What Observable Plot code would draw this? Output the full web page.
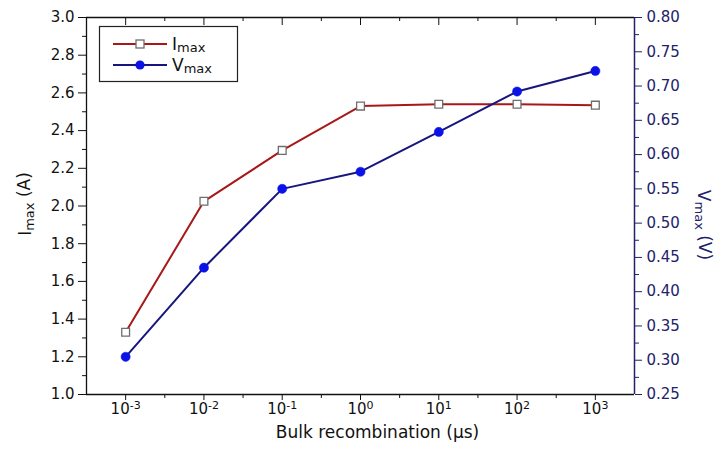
<!DOCTYPE html>
<html>
<head>
<meta charset="utf-8">
<script src="https://cdn.jsdelivr.net/npm/d3@7"></script>
<script src="https://cdn.jsdelivr.net/npm/@observablehq/plot@0.6"></script>
<style>
  html, body { margin: 0; padding: 0; background: #fff; }
  #chart svg { display: block; }
</style>
</head>
<body>
<div id="chart"></div>
<script>
// Bulk recombination lifetime (µs) and the resulting maximum-power current / voltage
const tau = [1e-3, 1e-2, 1e-1, 1e0, 1e1, 1e2, 1e3];
const iMax = [1.33, 2.025, 2.295, 2.53, 2.54, 2.54, 2.535];
const vMax = [0.305, 0.435, 0.55, 0.575, 0.633, 0.692, 0.722];

// Axis ticks
const xMinor = [-2.5, -1.5, -0.5, 0.5, 1.5, 2.5].map(e => Math.pow(10, e));
const iTicks = [1.0, 1.2, 1.4, 1.6, 1.8, 2.0, 2.2, 2.4, 2.6, 2.8, 3.0];
const iMinor = [1.1, 1.3, 1.5, 1.7, 1.9, 2.1, 2.3, 2.5, 2.7, 2.9];
const vTicks = [0.25, 0.30, 0.35, 0.40, 0.45, 0.50, 0.55, 0.60, 0.65, 0.70, 0.75, 0.80];
const vMinor = [0.275, 0.325, 0.375, 0.425, 0.475, 0.525, 0.575, 0.625, 0.675, 0.725, 0.775];

const xDomain = [Math.pow(10, -3.5), Math.pow(10, 3.5)];
const iDomain = [1.0, 3.0];
const vDomain = [0.25, 0.80];

// The voltage series shares the current axis through a linear mapping
const vToI = d3.scaleLinear().domain(vDomain).range(iDomain);

const red = "#a81818";
const navy = "#16167e";
const blue = "#0a12e8";
const axisNavy = "#22226a";

const iData = tau.map((t, k) => ({t, v: iMax[k]}));
const vData = tau.map((t, k) => ({t, v: vToI(vMax[k])}));

const expFmt = d => "10^" + Math.round(Math.log10(d));

const chart = Plot.plot({
  width: 723,
  height: 451,
  marginLeft: 86,
  marginRight: 89,
  marginTop: 17,
  marginBottom: 57,
  style: {fontFamily: "'DejaVu Sans', sans-serif", fontSize: "15px", color: "#111", background: "#fff"},
  x: {type: "log", domain: xDomain},
  y: {domain: iDomain},
  marks: [
    // bottom axis
    Plot.axisX(tau, {anchor: "bottom", tickSize: 6, tickPadding: 3, tickFormat: expFmt, label: null}),
    Plot.axisX(xMinor, {anchor: "bottom", tickSize: 4, tickFormat: () => "", label: null}),
    // top mirror ticks pointing inward
    Plot.axisX(tau, {anchor: "top", tickSize: -7, tickFormat: () => "", label: null}),
    Plot.axisX(xMinor, {anchor: "top", tickSize: -3, tickFormat: () => "", label: null}),
    // left current axis
    Plot.axisY(iTicks, {anchor: "left", tickSize: 8, tickPadding: 4, tickFormat: d3.format(".1f"), label: null}),
    Plot.axisY(iMinor, {anchor: "left", tickSize: 4, tickFormat: () => "", label: null}),
    // right voltage axis
    Plot.axisY(vTicks.map(vToI), {anchor: "right", tickSize: 7, tickPadding: 5, stroke: axisNavy, fill: axisNavy,
      tickFormat: d => d3.format(".2f")(vToI.invert(d)), label: null}),
    Plot.axisY(vMinor.map(vToI), {anchor: "right", tickSize: 4, stroke: axisNavy, tickFormat: () => "", label: null}),
    // frame
    Plot.ruleY([iDomain[0]], {stroke: "#111", strokeWidth: 1.3}),
    Plot.ruleY([iDomain[1]], {stroke: "#111", strokeWidth: 1.3}),
    Plot.ruleX([xDomain[0]], {stroke: "#111", strokeWidth: 1.3}),
    Plot.ruleX([xDomain[1]], {stroke: axisNavy, strokeWidth: 1.5}),
    // series
    Plot.line(iData, {x: "t", y: "v", stroke: red, strokeWidth: 2}),
    Plot.line(vData, {x: "t", y: "v", stroke: navy, strokeWidth: 2}),
    Plot.dot(iData, {x: "t", y: "v", symbol: "square", r: 4.4, fill: "#fff", stroke: "#6e6e6e", strokeWidth: 1.3}),
    Plot.dot(vData, {x: "t", y: "v", r: 4.6, fill: blue, stroke: blue, strokeWidth: 0.5}),
    // axis titles
    Plot.text(["Bulk recombination (\u03bcs)"], {frameAnchor: "bottom", textAnchor: "middle", dx: 17, dy: 43, fontSize: 17, fill: "#111"}),
    Plot.text(["Imax (A)"], {frameAnchor: "left", textAnchor: "middle", dx: -61, dy: -2, rotate: -90, fontSize: 17, fill: "#111", className: "ititle"}),
    Plot.text(["Vmax (V)"], {frameAnchor: "right", textAnchor: "middle", dx: 69, dy: 19, rotate: 90, fontSize: 17, fill: axisNavy, className: "vtitle"})
  ]
});

const svg = d3.select(chart);

// Powers of ten with superscript exponents
svg.selectAll("text").each(function () {
  const m = /^10\^(-?\d+)$/.exec(this.textContent);
  if (!m) return;
  const el = d3.select(this);
  el.text("");
  el.append("tspan").text("10");
  el.append("tspan").attr("dy", "-0.45em").attr("font-size", "11px").text(m[1]);
});

// "max" subscripts in the axis titles
function subscript(sel, base, rest) {
  sel.each(function () {
    const el = d3.select(this);
    el.text("");
    el.append("tspan").text(base);
    el.append("tspan").attr("font-size", "13px").attr("dy", "0.25em").text("max");
    el.append("tspan").attr("dy", "-0.25em").text(rest);
  });
}
subscript(svg.selectAll("g.ititle text"), "I", " (A)");
subscript(svg.selectAll("g.vtitle text"), "V", " (V)");

// Legend box in the upper-left corner of the frame
const lg = svg.append("g").attr("font-family", "'DejaVu Sans', sans-serif").attr("text-anchor", "start");
lg.append("rect").attr("x", 99.5).attr("y", 26.5).attr("width", 138).attr("height", 55)
  .attr("fill", "#fff").attr("stroke", "#222").attr("stroke-width", 1.2);
const items = [
  {base: "I", stroke: red, row: 44, square: true},
  {base: "V", stroke: navy, row: 65, square: false}
];
for (const it of items) {
  lg.append("line").attr("x1", 113).attr("x2", 167).attr("y1", it.row).attr("y2", it.row)
    .attr("stroke", it.stroke).attr("stroke-width", 2);
  if (it.square) {
    lg.append("rect").attr("x", 136).attr("y", it.row - 4).attr("width", 8).attr("height", 8)
      .attr("fill", "#fff").attr("stroke", "#6e6e6e").attr("stroke-width", 1.3);
  } else {
    lg.append("circle").attr("cx", 140).attr("cy", it.row).attr("r", 4.6).attr("fill", blue);
  }
  const t = lg.append("text").attr("x", 172).attr("y", it.row + 6).attr("font-size", 17).attr("fill", "#111");
  t.append("tspan").text(it.base);
  t.append("tspan").attr("font-size", 13).attr("dy", 2).text("max");
}

document.getElementById("chart").appendChild(chart);
</script>
</body>
</html>
